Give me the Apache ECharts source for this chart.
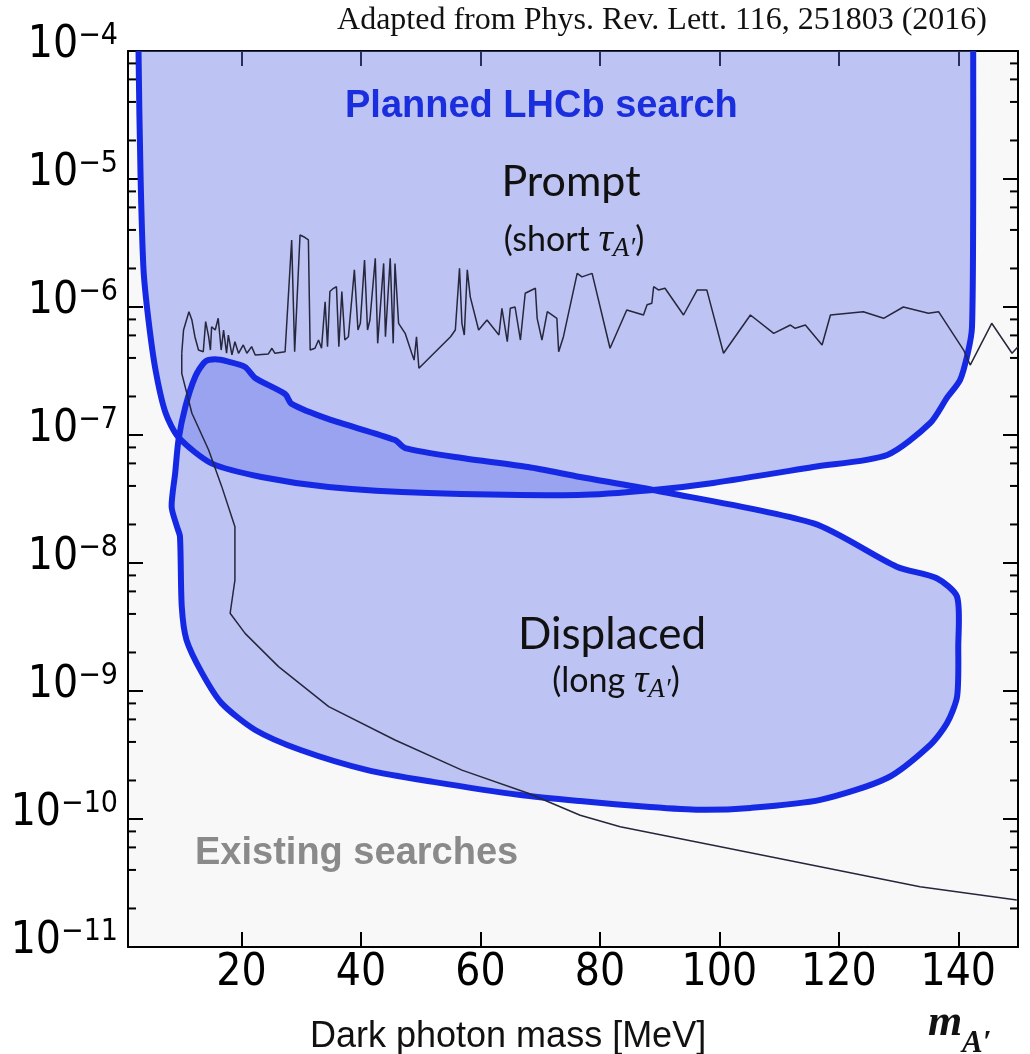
<!DOCTYPE html>
<html>
<head>
<meta charset="utf-8">
<script src="https://cdn.jsdelivr.net/npm/echarts@6/dist/echarts.min.js"></script>
<style>
  html, body { margin: 0; padding: 0; background: #ffffff; }
  #chart { width: 1030px; height: 1054px; }
</style>
</head>
<body>
<div id="chart"></div>
<script>
// ---- tick labels ----
const massTicks = [20, 40, 60, 80, 100, 120, 140];
const epsMinorTicks = [2e-11, 4e-11, 6e-11, 8e-11, 2e-10, 4e-10, 6e-10, 8e-10,
  2e-9, 4e-9, 6e-9, 8e-9, 2e-8, 4e-8, 6e-8, 8e-8, 2e-7, 4e-7, 6e-7, 8e-7,
  2e-6, 4e-6, 6e-6, 8e-6, 2e-5, 4e-5, 6e-5, 8e-5];

// ---- Planned LHCb prompt search region (boundary, leaves through the top) ----
const promptMass = [2.7, 2.76, 3.10, 3.60, 4.43, 5.61, 7.28, 9.45, 14.98, 23.34, 34.55, 51.29, 76.39,
  88.94, 98.98, 115.7, 128.1, 135.3, 138.1, 140.3, 141.6, 142.3, 142.5, 142.5, 142.5];
const promptEps = [1e-3, 1e-4, 1.07e-5, 1.95e-6, 7.9e-7, 3.22e-7, 1.49e-7, 9.6e-8, 6.0e-8, 4.7e-8, 3.93e-8, 3.52e-8, 3.40e-8,
  3.72e-8, 4.22e-8, 5.62e-8, 6.98e-8, 1.24e-7, 1.95e-7, 2.69e-7, 4.38e-7, 6.98e-7, 6.85e-6, 1e-4, 1e-3];

// ---- Planned LHCb displaced search region (closed loop) ----
const displacedMass = [13.9, 15.6, 17.8, 20.6, 22.3, 27.3, 28.4, 34.6, 45.7, 47.4,
  56.9, 68.0, 76.7, 88.9, 115.8, 129.7, 136.4, 139.8, 140.0, 139.8,
  138.1, 135.3, 128.1, 116.9, 105.2, 96.8, 88.4, 76.7, 66.7, 52.1,
  41.1, 29.9, 22.3, 16.7, 13.4, 10.8, 10.0, 9.7, 9.2, 8.3,
  8.9, 9.45, 10.6, 12.25];
const displacedEps = [3.74e-7, 3.90e-7, 3.74e-7, 3.40e-7, 2.79e-7, 2.09e-7, 1.75e-7, 1.33e-7, 9.14e-8, 7.91e-8,
  6.61e-8, 5.62e-8, 4.70e-8, 3.72e-8, 2.04e-8, 9.36e-9, 7.60e-9, 5.45e-9, 2.22e-9, 9.03e-10,
  5.59e-10, 3.79e-10, 2.09e-10, 1.41e-10, 1.22e-10, 1.18e-10, 1.24e-10, 1.38e-10, 1.54e-10, 1.95e-10,
  2.41e-10, 3.46e-10, 4.96e-10, 8.01e-10, 1.38e-9, 2.50e-9, 4.56e-9, 1.61e-8, 1.92e-8, 2.75e-8,
  5.05e-8, 9.14e-8, 1.66e-7, 2.85e-7];

// ---- Existing searches: upper (prompt) limit ----
const existingUpperMass = [10.0, 10.3, 11.2, 11.7, 12.2, 12.8, 13.6, 14.0, 14.5, 14.8,
  15.0, 15.6, 16.1, 16.6, 17.0, 17.5, 17.8, 18.4, 18.9, 19.5,
  20.3, 20.9, 21.7, 22.3, 24.5, 25.1, 25.6, 27.3, 28.4, 28.9,
  29.8, 30.4, 31.2, 31.5, 32.3, 32.9, 33.4, 34.0, 34.4, 34.8,
  35.4, 35.9, 36.3, 36.8, 37.3, 37.9, 38.9, 39.5, 39.9, 40.6,
  41.1, 41.5, 42.4, 42.8, 43.8, 44.1, 44.9, 45.4, 45.7, 46.3,
  47.4, 48.5, 48.9, 49.3, 49.7, 55.0, 55.8, 56.5, 56.9, 57.3,
  57.8, 58.3, 59.7, 61.1, 63.1, 63.6, 64.5, 65.0, 65.8, 66.7,
  67.5, 69.2, 69.5, 70.3, 71.2, 72.8, 73.1, 73.9, 76.2, 77.0,
  78.7, 81.7, 84.5, 87.3, 87.9, 88.7, 89.0, 89.8, 90.9, 94.0,
  96.3, 97.9, 100.7, 105.2, 109.1, 111.9, 112.7, 114.4, 117.2, 118.6,
  124.1, 127.5, 130.8, 135.0, 136.7, 140.9, 142.0, 145.6, 149.0, 150.0];
const existingUpperEps = [4.35e-7, 6.61e-7, 9.19e-7, 7.91e-7, 5.86e-7, 4.61e-7, 4.47e-7, 7.68e-7, 5.86e-7, 4.61e-7,
  7.01e-7, 6.61e-7, 8.16e-7, 4.61e-7, 6.61e-7, 4.35e-7, 6.04e-7, 4.22e-7, 5.36e-7, 4.35e-7,
  5.05e-7, 4.35e-7, 4.90e-7, 4.22e-7, 4.30e-7, 4.76e-7, 4.35e-7, 4.47e-7, 3.34e-6, 4.47e-7,
  3.65e-6, 3.54e-6, 3.34e-6, 4.61e-7, 4.76e-7, 5.52e-7, 4.76e-7, 1.10e-6, 4.90e-7, 1.32e-6,
  1.40e-6, 1.44e-6, 4.90e-7, 1.32e-6, 5.52e-7, 5.86e-7, 1.95e-6, 6.61e-7, 7.46e-7, 2.33e-6,
  6.61e-7, 7.91e-7, 2.40e-6, 5.20e-7, 2.19e-6, 5.86e-7, 2.40e-6, 5.20e-7, 2.19e-6, 7.46e-7,
  6.23e-7, 4.35e-7, 3.85e-7, 5.86e-7, 3.32e-7, 5.86e-7, 6.61e-7, 2.01e-6, 7.46e-7, 6.04e-7,
  1.95e-6, 1.20e-6, 6.61e-7, 7.91e-7, 6.04e-7, 9.77e-7, 5.36e-7, 9.77e-7, 1.00e-6, 5.52e-7,
  1.28e-6, 1.40e-6, 8.16e-7, 5.52e-7, 9.19e-7, 8.16e-7, 4.47e-7, 5.86e-7, 1.83e-6, 1.72e-6,
  1.83e-6, 4.76e-7, 9.48e-7, 8.66e-7, 1.04e-6, 1.07e-6, 1.44e-6, 1.36e-6, 1.40e-6, 8.66e-7,
  1.36e-6, 1.36e-6, 4.35e-7, 8.66e-7, 6.23e-7, 7.23e-7, 6.82e-7, 7.23e-7, 5.05e-7, 8.66e-7,
  9.19e-7, 8.16e-7, 1.00e-6, 8.93e-7, 9.19e-7, 4.61e-7, 3.52e-7, 7.46e-7, 4.35e-7, 4.90e-7];

// ---- Existing searches: lower (beam dump) limit ----
const existingLowerMass = [10.0, 10.0, 11.7, 14.5, 16.7, 18.9, 18.9, 18.1, 20.6, 26.2,
  34.6, 45.7, 56.9, 68.0, 76.7, 83.4, 100.2, 116.9, 133.6, 149.8];
const existingLowerEps = [4.35e-7, 3.03e-7, 1.48e-7, 7.63e-8, 3.95e-8, 1.92e-8, 7.36e-9, 4.05e-9, 2.82e-9, 1.55e-9,
  7.54e-10, 4.14e-10, 2.41e-10, 1.59e-10, 1.07e-10, 8.71e-11, 6.08e-11, 4.24e-11, 2.96e-11, 2.33e-11];

// ---- styling ----
const X_MIN = 1, X_MAX = 150;
const BLUE = '#1529e4';
const FILL = 'rgba(100, 116, 235, 0.40)';
const TICK_FONT = "'Liberation Sans Narrow', 'DejaVu Sans Condensed', 'Liberation Sans', sans-serif";
const SMOOTH = 0.25;

function pts(api, xs, ys) {
  return xs.map((x, i) => api.coord([x, ys[i]]));
}

function fillSeries(xs, ys) {
  return {
    type: 'custom', coordinateSystem: 'cartesian2d', clip: true, silent: true,
    data: [[xs[1], ys[1]]],
    renderItem: (params, api) => ({
      type: 'polygon',
      shape: { points: pts(api, xs, ys), smooth: SMOOTH },
      style: { fill: FILL, stroke: null }
    })
  };
}

function strokeSeries(xs, ys, closed) {
  return {
    type: 'custom', coordinateSystem: 'cartesian2d', clip: true, silent: true,
    data: [[xs[1], ys[1]]],
    renderItem: (params, api) => ({
      type: closed ? 'polygon' : 'polyline',
      shape: { points: pts(api, xs, ys), smooth: SMOOTH },
      style: { fill: null, stroke: BLUE, lineWidth: 6, lineJoin: 'round' }
    })
  };
}

function lineSeries(xs, ys) {
  return {
    type: 'line', silent: true, symbol: 'none', showSymbol: false, clip: true,
    data: xs.map((x, i) => [x, ys[i]]),
    lineStyle: { color: '#26263c', width: 1.5 },
    z: 3
  };
}

const axisLineStyle = { show: true, onZero: false, lineStyle: { color: '#000', width: 2 } };
const majorTick = { show: true, inside: true, length: 15, lineStyle: { color: '#000', width: 2 } };

const tauRich = {
  p: { fontFamily: 'Lato, sans-serif', fontSize: 34, fill: '#111' },
  t: { fontFamily: "'Liberation Serif', serif", fontStyle: 'italic', fontSize: 40, fill: '#111' },
  s: { fontFamily: "'Liberation Serif', serif", fontStyle: 'italic', fontSize: 27, fill: '#111', padding: [18, 0, 0, 0] }
};

const chart = echarts.init(document.getElementById('chart'), null, { renderer: 'canvas' });

const option = {
  animation: false,
  backgroundColor: '#ffffff',
  grid: { left: 128, top: 51, width: 890, height: 896, show: true, backgroundColor: '#f8f8f8', borderWidth: 0 },
  xAxis: [
    {
      type: 'value', min: X_MIN, max: X_MAX, position: 'bottom',
      axisLine: axisLineStyle,
      axisTick: Object.assign({ customValues: massTicks }, majorTick),
      axisLabel: { customValues: massTicks, fontSize: 44, fontFamily: TICK_FONT, color: '#000', margin: 5 },
      splitLine: { show: false }
    },
    {
      type: 'value', min: X_MIN, max: X_MAX, position: 'top',
      axisLine: axisLineStyle,
      axisTick: Object.assign({ customValues: massTicks }, majorTick),
      axisLabel: { show: false },
      splitLine: { show: false }
    }
  ],
  yAxis: [
    {
      type: 'log', logBase: 10, min: 1e-11, max: 1e-4, position: 'left',
      axisLine: axisLineStyle,
      axisTick: majorTick,
      minorTick: { show: false },
      splitLine: { show: false },
      axisLabel: {
        margin: 10,
        padding: [0, 0, 10, 0],
        formatter: (v) => {
          const e = Math.round(Math.log10(v));
          return '{b|10}{s|\u2212' + Math.abs(e) + '}';
        },
        rich: {
          b: { fontSize: 44, fontFamily: TICK_FONT, color: '#000' },
          s: { fontSize: 30, fontFamily: TICK_FONT, color: '#000', padding: [0, 0, 20, 0] }
        }
      }
    },
    {
      type: 'log', logBase: 10, min: 1e-11, max: 1e-4, position: 'right',
      axisLine: axisLineStyle,
      axisTick: majorTick,
      minorTick: { show: false },
      splitLine: { show: false },
      axisLabel: { show: false }
    }
  ],
  graphic: [
    { type: 'text', x: 987, y: 21, z: 100, style: { text: 'Adapted from Phys. Rev. Lett. 116, 251803 (2016)', fontFamily: "'Liberation Serif', serif", fontSize: 32, fill: '#111', align: 'right', verticalAlign: 'middle' } },
    { type: 'text', x: 345, y: 107, z: 100, style: { text: 'Planned LHCb search', fontFamily: "'Liberation Sans', Arial, sans-serif", fontWeight: 'bold', fontSize: 38, fill: '#1a2ede', align: 'left', verticalAlign: 'middle' } },
    { type: 'text', x: 571, y: 182, z: 100, style: { text: 'Prompt', fontFamily: 'Lato, sans-serif', fontSize: 43, fill: '#111', align: 'center', verticalAlign: 'middle' } },
    { type: 'text', x: 574, y: 240, z: 100, style: { text: '{p|(short }{t|\u03c4}{s|A\u2032}{p|)}', align: 'center', verticalAlign: 'middle', rich: tauRich } },
    { type: 'text', x: 612, y: 635, z: 100, style: { text: 'Displaced', fontFamily: 'Lato, sans-serif', fontSize: 44, fill: '#111', align: 'center', verticalAlign: 'middle' } },
    { type: 'text', x: 616, y: 681, z: 100, style: { text: '{p|(long }{t|\u03c4}{s|A\u2032}{p|)}', align: 'center', verticalAlign: 'middle', rich: tauRich } },
    { type: 'text', x: 195, y: 854, z: 100, style: { text: 'Existing searches', fontFamily: "'Liberation Sans', Arial, sans-serif", fontWeight: 'bold', fontSize: 38, fill: '#8a8a8a', align: 'left', verticalAlign: 'middle' } },
    { type: 'text', x: 310, y: 1037, z: 100, style: { text: 'Dark photon mass [MeV]', fontFamily: "'Liberation Sans', Arial, sans-serif", fontSize: 36, fill: '#111', align: 'left', verticalAlign: 'middle' } },
    { type: 'text', x: 928, y: 1024, z: 100, style: { text: 'm', fontFamily: "'Liberation Serif', serif", fontWeight: 'bold', fontStyle: 'italic', fontSize: 44, fill: '#111', align: 'left', verticalAlign: 'middle' } },
    { type: 'text', x: 962, y: 1044, z: 100, style: { text: 'A\u2032', fontFamily: "'Liberation Serif', serif", fontWeight: 'bold', fontStyle: 'italic', fontSize: 31, fill: '#111', align: 'left', verticalAlign: 'middle' } }
  ],
  series: [
    fillSeries(promptMass, promptEps),
    fillSeries(displacedMass, displacedEps),
    lineSeries(existingLowerMass, existingLowerEps),
    lineSeries(existingUpperMass, existingUpperEps),
    strokeSeries(promptMass, promptEps, false),
    strokeSeries(displacedMass, displacedEps, true),
    {
      type: 'custom', coordinateSystem: 'cartesian2d', silent: true, clip: false,
      data: epsMinorTicks.map(v => [X_MIN, v]),
      renderItem: (params, api) => {
        const l = api.coord([X_MIN, api.value(1)]);
        const r = api.coord([X_MAX, api.value(1)]);
        const st = { stroke: '#000', lineWidth: 2 };
        return {
          type: 'group',
          children: [
            { type: 'line', shape: { x1: l[0], y1: l[1], x2: l[0] + 8, y2: l[1] }, style: st },
            { type: 'line', shape: { x1: r[0] - 8, y1: r[1], x2: r[0], y2: r[1] }, style: st }
          ]
        };
      }
    }
  ]
};

chart.setOption(option);
</script>
</body>
</html>
